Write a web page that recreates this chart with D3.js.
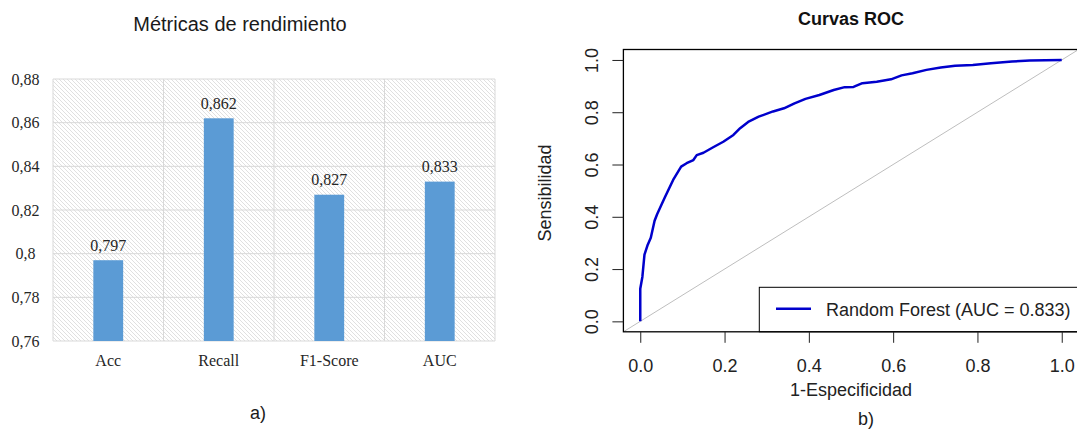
<!DOCTYPE html>
<html>
<head>
<meta charset="utf-8">
<script src="https://cdn.jsdelivr.net/npm/d3@7"></script>
<style>
  body { margin: 0; background: #fff; }
  svg { display: block; }
</style>
</head>
<body>
<svg id="fig" width="1077" height="432"></svg>
<script>
// ---- Panel a: performance metrics ----
const metricNames = ["Acc", "Recall", "F1-Score", "AUC"];
const metricValues = [0.797, 0.862, 0.827, 0.833];
const metricTicks = [0.76, 0.78, 0.80, 0.82, 0.84, 0.86, 0.88];
const metricTickLabels = ["0,76", "0,78", "0,8", "0,82", "0,84", "0,86", "0,88"];

// ---- Panel b: ROC curve (false positive rate vs. true positive rate) ----
const rocFpr = [0, 0, 0.005, 0.010, 0.017, 0.025, 0.034, 0.040, 0.050, 0.059,
  0.078, 0.097, 0.110, 0.126, 0.134, 0.150, 0.173, 0.197, 0.221, 0.237,
  0.256, 0.281, 0.315, 0.341, 0.366, 0.392, 0.425, 0.459, 0.485, 0.506,
  0.527, 0.561, 0.595, 0.620, 0.646, 0.679, 0.713, 0.747, 0.789, 0.832,
  0.882, 0.924, 1.0];
const rocTpr = [0, 0.125, 0.17, 0.255, 0.29, 0.32, 0.385, 0.41, 0.445, 0.477,
  0.541, 0.592, 0.605, 0.617, 0.636, 0.645, 0.666, 0.687, 0.713, 0.739,
  0.763, 0.783, 0.803, 0.815, 0.834, 0.851, 0.866, 0.885, 0.896, 0.897,
  0.911, 0.917, 0.926, 0.941, 0.949, 0.962, 0.971, 0.978, 0.981, 0.987,
  0.994, 0.998, 1.0];
const rocTicks = [0, 0.2, 0.4, 0.6, 0.8, 1.0];
const rocModel = "Random Forest";
const rocAuc = 0.833;

const svg = d3.select("#fig");
const sans = "'Liberation Sans', Arial, sans-serif";
const serif = "'Liberation Serif', 'Times New Roman', serif";

// hatch fill for the plot area
const defs = svg.append("defs");
const pat = defs.append("pattern")
  .attr("id", "hatch").attr("width", 4).attr("height", 4)
  .attr("patternUnits", "userSpaceOnUse");
pat.append("rect").attr("width", 4).attr("height", 4).attr("fill", "#ffffff");
pat.append("path")
  .attr("d", "M-1,-1 L5,5 M3,-1 L5,1 M-1,3 L1,5")
  .attr("stroke", "#e0e0e0").attr("stroke-width", 1);

// ================= Panel a =================
const A = { left: 53, right: 495, top: 79, bottom: 341 };
const xA = d3.scaleBand().domain(metricNames).range([A.left, A.right]).padding(0);
const yA = d3.scaleLinear().domain([0.76, 0.88]).range([A.bottom, A.top]);
const gA = svg.append("g");

gA.append("rect")
  .attr("x", A.left).attr("y", A.top)
  .attr("width", A.right - A.left).attr("height", A.bottom - A.top)
  .attr("fill", "url(#hatch)");

// horizontal gridlines
gA.selectAll("line.hg").data(metricTicks).join("line")
  .attr("class", "hg")
  .attr("x1", A.left).attr("x2", A.right)
  .attr("y1", d => yA(d)).attr("y2", d => yA(d))
  .attr("stroke", "#d9d9d9").attr("stroke-width", 1);

// vertical gridlines at category boundaries
const bounds = metricNames.map(d => xA(d)).concat([A.right]);
gA.selectAll("line.vg").data(bounds).join("line")
  .attr("class", "vg")
  .attr("x1", d => d).attr("x2", d => d)
  .attr("y1", A.top).attr("y2", A.bottom)
  .attr("stroke", "#d9d9d9").attr("stroke-width", 1);

// bars
const barW = xA.bandwidth() * 0.27;
gA.selectAll("rect.bar").data(metricNames).join("rect")
  .attr("class", "bar")
  .attr("x", d => xA(d) + xA.bandwidth() / 2 - barW / 2)
  .attr("width", barW)
  .attr("y", (d, i) => yA(metricValues[i]))
  .attr("height", (d, i) => A.bottom - yA(metricValues[i]))
  .attr("fill", "#5b9bd5");

// value labels
gA.selectAll("text.val").data(metricNames).join("text")
  .attr("class", "val")
  .attr("x", d => xA(d) + xA.bandwidth() / 2)
  .attr("y", (d, i) => yA(metricValues[i]) - 15)
  .attr("text-anchor", "middle").attr("dominant-baseline", "central")
  .attr("font-family", serif).attr("font-size", 16).attr("fill", "#262626")
  .text((d, i) => metricValues[i].toFixed(3).replace(".", ","));

// y tick labels
gA.selectAll("text.yt").data(metricTicks).join("text")
  .attr("class", "yt")
  .attr("x", 25.5).attr("y", d => yA(d))
  .attr("text-anchor", "middle").attr("dominant-baseline", "central")
  .attr("font-family", serif).attr("font-size", 16).attr("fill", "#262626")
  .text((d, i) => metricTickLabels[i]);

// category labels
gA.selectAll("text.xt").data(metricNames).join("text")
  .attr("class", "xt")
  .attr("x", d => xA(d) + xA.bandwidth() / 2).attr("y", 360)
  .attr("text-anchor", "middle").attr("dominant-baseline", "central")
  .attr("font-family", serif).attr("font-size", 16).attr("fill", "#262626")
  .text(d => d);

gA.append("text")
  .attr("x", 240).attr("y", 24)
  .attr("text-anchor", "middle").attr("dominant-baseline", "central")
  .attr("font-family", sans).attr("font-size", 20).attr("fill", "#1a1a1a")
  .text("Métricas de rendimiento");

gA.append("text")
  .attr("x", 258).attr("y", 413)
  .attr("text-anchor", "middle").attr("dominant-baseline", "central")
  .attr("font-family", sans).attr("font-size", 18).attr("fill", "#1a1a1a")
  .text("a)");

// ================= Panel b =================
const B = { left: 623.4, right: 1078.6, top: 49.5, bottom: 331.8 };
const xB = d3.scaleLinear().domain([-0.04, 1.04]).range([B.left, B.right]);
const yB = d3.scaleLinear().domain([-0.04, 1.04]).range([B.bottom, B.top]);
const gB = svg.append("g");

defs.append("clipPath").attr("id", "clipB")
  .append("rect")
  .attr("x", B.left).attr("y", B.top)
  .attr("width", B.right - B.left).attr("height", B.bottom - B.top);

// chance diagonal
gB.append("line")
  .attr("clip-path", "url(#clipB)")
  .attr("x1", xB(-0.04)).attr("y1", yB(-0.04))
  .attr("x2", xB(1.04)).attr("y2", yB(1.04))
  .attr("stroke", "#bebebe").attr("stroke-width", 1);

// ROC curve
const rocPts = rocFpr.map((f, i) => [f, rocTpr[i]]);
gB.append("path")
  .datum(rocPts)
  .attr("d", d3.line().x(d => xB(d[0])).y(d => yB(d[1])))
  .attr("fill", "none").attr("stroke", "#0000cc")
  .attr("stroke-width", 2.5).attr("stroke-linejoin", "round");

// legend
const legTop = 287.3, legLeft = 759.3;
gB.append("rect")
  .attr("x", legLeft).attr("y", legTop)
  .attr("width", B.right + 5 - legLeft).attr("height", B.bottom - legTop)
  .attr("fill", "#fff").attr("stroke", "#000").attr("stroke-width", 1);
gB.append("line")
  .attr("x1", 776).attr("x2", 811)
  .attr("y1", 308.7).attr("y2", 308.7)
  .attr("stroke", "#0000cc").attr("stroke-width", 2.5);
gB.append("text")
  .attr("x", 826).attr("y", 310)
  .attr("dominant-baseline", "central")
  .attr("font-family", sans).attr("font-size", 18).attr("fill", "#222")
  .text(`${rocModel} (AUC = ${rocAuc.toFixed(3)})`);

// plot box
gB.append("rect")
  .attr("x", B.left).attr("y", B.top)
  .attr("width", B.right - B.left).attr("height", B.bottom - B.top)
  .attr("fill", "none").attr("stroke", "#000").attr("stroke-width", 1.3);

// x axis
const xAxis = gB.append("g")
  .attr("transform", `translate(0,${B.bottom})`)
  .call(d3.axisBottom(xB).tickValues(rocTicks).tickSize(11).tickFormat(d3.format(".1f")));
xAxis.select(".domain").remove();
xAxis.selectAll(".tick line").attr("stroke", "#222");
xAxis.selectAll(".tick text")
  .attr("y", 366 - B.bottom).attr("dy", null)
  .attr("dominant-baseline", "central")
  .attr("font-family", sans).attr("font-size", 18).attr("fill", "#222");

// y axis with rotated labels
const yAxis = gB.append("g")
  .attr("transform", `translate(${B.left},0)`)
  .call(d3.axisLeft(yB).tickValues(rocTicks).tickSize(11).tickFormat(d3.format(".1f")));
yAxis.select(".domain").remove();
yAxis.selectAll(".tick line").attr("stroke", "#222");
yAxis.selectAll(".tick text")
  .attr("x", null).attr("dy", null)
  .attr("transform", `translate(${592 - B.left},0) rotate(-90)`)
  .attr("text-anchor", "middle").attr("dominant-baseline", "central")
  .attr("font-family", sans).attr("font-size", 18).attr("fill", "#222");

// titles
gB.append("text")
  .attr("x", (B.left + B.right) / 2).attr("y", 19)
  .attr("text-anchor", "middle").attr("dominant-baseline", "central")
  .attr("font-family", sans).attr("font-size", 18).attr("font-weight", "bold").attr("fill", "#111")
  .text("Curvas ROC");

gB.append("text")
  .attr("x", (B.left + B.right) / 2).attr("y", 390)
  .attr("text-anchor", "middle").attr("dominant-baseline", "central")
  .attr("font-family", sans).attr("font-size", 18).attr("fill", "#222")
  .text("1-Especificidad");

gB.append("text")
  .attr("transform", `translate(545,193) rotate(-90)`)
  .attr("text-anchor", "middle").attr("dominant-baseline", "central")
  .attr("font-family", sans).attr("font-size", 18).attr("fill", "#222")
  .text("Sensibilidad");

gB.append("text")
  .attr("x", 866).attr("y", 419)
  .attr("text-anchor", "middle").attr("dominant-baseline", "central")
  .attr("font-family", sans).attr("font-size", 18).attr("fill", "#1a1a1a")
  .text("b)");
</script>
</body>
</html>
